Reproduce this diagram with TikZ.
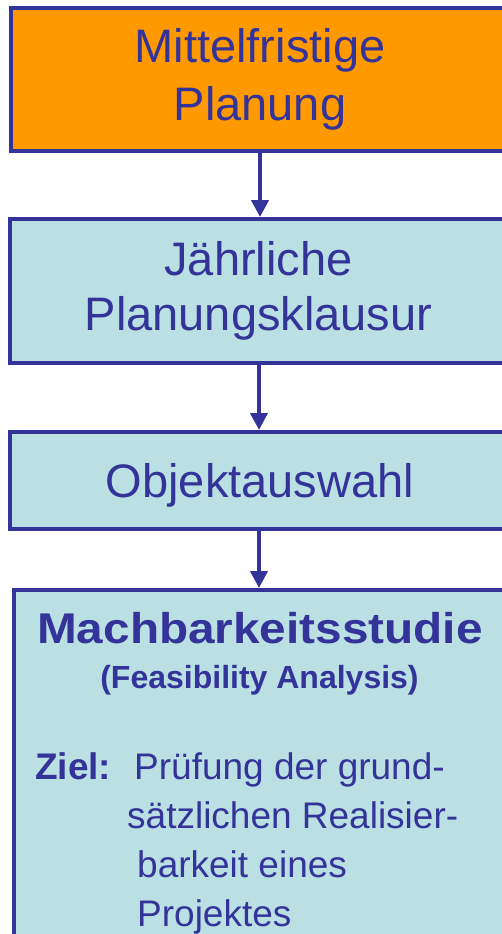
\documentclass[tikz,border=0pt]{standalone}
\usepackage{fontspec}
\setmainfont{Liberation Sans}
\usepackage{graphicx}
\usepackage{xcolor}
\usetikzlibrary{arrows.meta}
\definecolor{dunkelblau}{RGB}{51,51,153}
\definecolor{orangegelb}{RGB}{255,153,0}
\definecolor{hellblau}{RGB}{187,224,227}

\tikzset{
  kasten/.style={draw=dunkelblau, line width=4pt, text=dunkelblau, align=center, inner sep=0pt},
  zeile/.style={text=dunkelblau, inner sep=0pt, anchor=base west, font=\fontsize{37}{37}\selectfont},
  pfeil/.style={draw=dunkelblau, line width=4pt, -{Triangle[width=17pt,length=17pt]}}
}

\begin{document}
\begin{tikzpicture}[x=1pt,y=-1pt]
    \useasboundingbox (0,0) rectangle (502,934);
    \clip (0,0) rectangle (502,934);
    % Kaesten
    \node[kasten, fill=orangegelb, minimum width=498pt, minimum height=143pt, font=\fontsize{47}{58}\selectfont] (mittel) at (260,79.5) {Mittelfristige\\Planung};
    \node[kasten, fill=hellblau, minimum width=497pt, minimum height=144pt, font=\fontsize{47}{55}\selectfont] (klausur) at (258.5,291) {Jährliche\\Planungsklausur};
    \node[kasten, fill=hellblau, minimum width=500pt, minimum height=97pt, text depth=0pt, font=\fontsize{47}{55}\selectfont] (objekt) at (260,480.5) {Objektauswahl};
    \node[kasten, fill=hellblau, minimum width=492pt, minimum height=400pt] (studie) at (260,790) {};
    % Text der Machbarkeitsstudie
    \node[text=dunkelblau, inner sep=0pt, anchor=base, font=\bfseries\fontsize{43}{43}\selectfont] (titel) at (260,643) {\scalebox{1.11}[1]{Machbarkeitsstudie}};
    \node[text=dunkelblau, inner sep=0pt, anchor=base, font=\bfseries\fontsize{32}{32}\selectfont] (untertitel) at (259.5,688) {(Feasibility Analysis)};
    \node[zeile, font=\bfseries\fontsize{37}{37}\selectfont] (ziel) at (35,779) {Ziel:};
    \node[zeile] (z1) at (134,779) {Prüfung der grund-};
    \node[zeile] (z2) at (127,828) {sätzlichen Realisier-};
    \node[zeile] (z3) at (137,877) {barkeit eines};
    \node[zeile] (z4) at (137,926) {Projektes};
    % Pfeile
    \draw[pfeil] (mittel.south) -- (mittel.south |- klausur.north);
    \draw[pfeil] (259,363) coordinate (a2) (klausur.south -| a2) -- (a2 |- objekt.north);
    \draw[pfeil] (objekt.south -| a2) -- (a2 |- studie.north);
\end{tikzpicture}
\end{document}
